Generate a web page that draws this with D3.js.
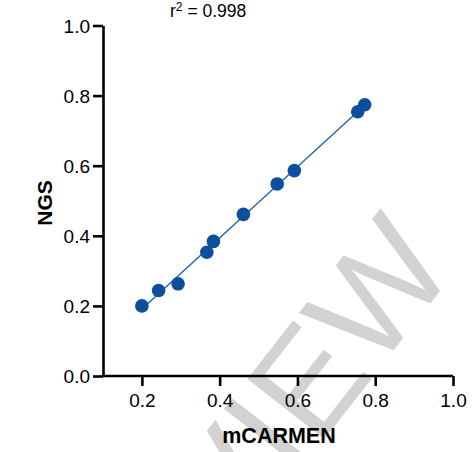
<!DOCTYPE html>
<html>
<head>
<meta charset="utf-8">
<script src="https://cdn.jsdelivr.net/npm/d3@7"></script>
<style>
  body { margin: 0; background: #fff; }
  text { font-family: "Liberation Sans", Arial, sans-serif; }
</style>
</head>
<body>
<div id="chart"></div>
<script>
// data
var mcarmen = [0.200, 0.243, 0.293, 0.367, 0.384, 0.461, 0.548, 0.592, 0.755, 0.773];
var ngs     = [0.200, 0.244, 0.263, 0.353, 0.384, 0.461, 0.548, 0.586, 0.754, 0.774];
var xTicks = [0.2, 0.4, 0.6, 0.8, 1.0];
var yTicks = [0.0, 0.2, 0.4, 0.6, 0.8, 1.0];
var rSquared = "0.998";

var W = 472, H = 452;
var margin = {top: 25.5, right: 19, bottom: 76, left: 103};
var width = W - margin.left - margin.right,
    height = H - margin.top - margin.bottom;

var svg = d3.select("#chart").append("svg")
    .attr("width", W)
    .attr("height", H);

// watermark, behind everything
svg.append("text")
    .attr("transform", "translate(458,268) rotate(-52)")
    .attr("text-anchor", "end")
    .style("font-size", "142px")
    .style("fill", "#d2d2d2")
    .text("PREVIEW");

var g = svg.append("g")
    .attr("transform", "translate(" + margin.left + "," + margin.top + ")");

var x = d3.scaleLinear().domain([0.1, 1.0]).range([0, width]);
var y = d3.scaleLinear().domain([0, 1.0]).range([height, 0]);

var data = mcarmen.map(function(v, i) { return {x: v, y: ngs[i]}; });

// least squares fit
var mx = d3.mean(data, d => d.x), my = d3.mean(data, d => d.y);
var slope = d3.sum(data, d => (d.x - mx) * (d.y - my)) / d3.sum(data, d => (d.x - mx) * (d.x - mx));
var icpt = my - slope * mx;
var xe = d3.extent(data, d => d.x);

g.append("line")
    .attr("x1", x(xe[0])).attr("y1", y(icpt + slope * xe[0]))
    .attr("x2", x(xe[1])).attr("y2", y(icpt + slope * xe[1]))
    .style("stroke", "#1d5eab")
    .style("stroke-width", 1.3);

g.append("g").selectAll("circle")
    .data(data)
    .enter()
    .append("circle")
      .attr("cx", d => x(d.x))
      .attr("cy", d => y(d.y))
      .attr("r", 6.8)
      .style("fill", "#0d4f9c");

// axes
var xAxis = g.append("g")
    .attr("transform", "translate(0," + height + ")")
    .call(d3.axisBottom(x).tickValues(xTicks).tickFormat(d3.format(".1f")).tickSize(10).tickSizeOuter(0));

var yAxis = g.append("g")
    .call(d3.axisLeft(y).tickValues(yTicks).tickFormat(d3.format(".1f")).tickSize(10).tickSizeOuter(0));

[xAxis, yAxis].forEach(function(a) {
  a.select(".domain").style("stroke", "#000").style("stroke-width", 2.6);
  a.selectAll(".tick line").style("stroke", "#000").style("stroke-width", 2.6);
  a.selectAll(".tick text")
    .style("font-size", "19px")
    .style("font-family", "Liberation Sans, Arial, sans-serif")
    .style("fill", "#000");
});
// extend x domain line to meet the y axis
xAxis.select(".domain").attr("d", "M-1.3,0H" + x(1.0));
xAxis.selectAll(".tick text").attr("dy", "0").attr("y", 31);
yAxis.selectAll(".tick text").attr("x", -13).attr("dy", "0.35em");

// axis titles
svg.append("text")
    .attr("x", 279)
    .attr("y", 443)
    .attr("text-anchor", "middle")
    .style("font-size", "21.5px")
    .style("font-weight", "bold")
    .text("mCARMEN");

svg.append("text")
    .attr("transform", "translate(51.5,203) rotate(-90)")
    .attr("text-anchor", "middle")
    .style("font-size", "21px")
    .style("font-weight", "bold")
    .text("NGS");

// r squared
var r2 = svg.append("text")
    .attr("x", 170)
    .attr("y", 17)
    .style("font-size", "17.5px");
r2.append("tspan").text("r");
r2.append("tspan").attr("dy", -6).style("font-size", "12px").text("2");
r2.append("tspan").attr("dy", 6).text(" = " + rSquared);
</script>
</body>
</html>
